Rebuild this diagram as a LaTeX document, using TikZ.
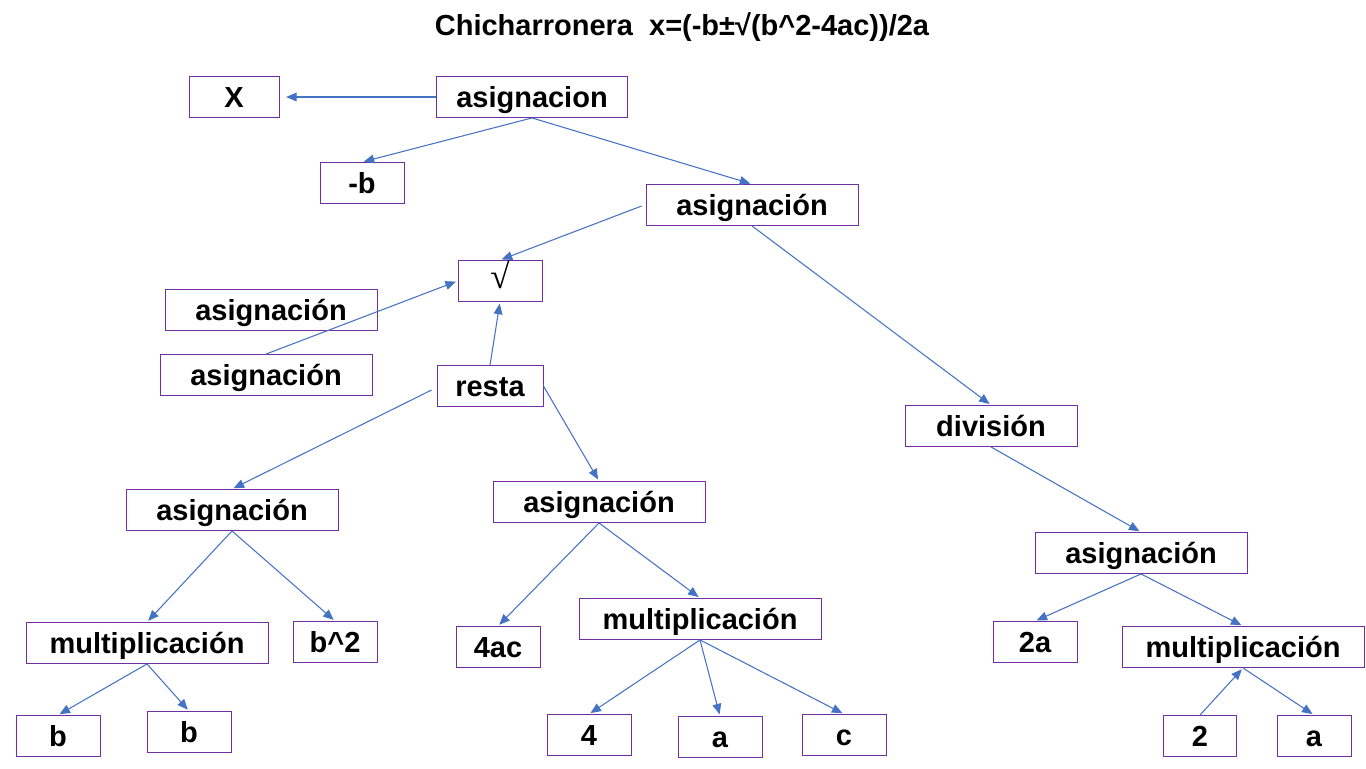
\documentclass[tikz,border=0pt]{standalone}
\usepackage{fontspec}
\setmainfont{Liberation Sans}
\newfontfamily\rootfont{Liberation Serif}
\usetikzlibrary{arrows.meta}
\definecolor{boxline}{RGB}{112,48,160}
\definecolor{arrowline}{RGB}{68,114,196}

\begin{document}
\begin{tikzpicture}[x=0.02cm,y=-0.02cm,
    every node/.style={rectangle,draw=boxline,line width=0.5pt,inner sep=0pt,minimum height=0.82cm,
        text height=13.5pt,text depth=1.5pt,font=\fontsize{16.5}{19}\selectfont\bfseries},
    small/.style={minimum width=1.68cm},
    wide/.style={minimum width=4.24cm},
    wider/.style={minimum width=4.84cm},
    link/.style={draw=arrowline,line width=0.6pt,-{Triangle[length=6pt,width=5pt]},shorten >=1pt}]
    \useasboundingbox (0,0) rectangle (1366,768);
    \node[draw=none] (title) at (682,25) {Chicharronera\ \ x=(-b±√(b\textasciicircum 2-4ac))/2a};

    \node[minimum width=1.8cm] (X) at (234,97) {X};
    \node[minimum width=3.82cm] (A) at (532,97) {asignacion};
    \node[small] (B) at (362,183) {-b};
    \node[wide] (C) at (752,205) {asignación};
    \node[small,text height=11pt,text depth=2pt,font=\rootfont\fontsize{20}{22}\selectfont] (R) at (500,281) {√};
    \node[wide] (D) at (271,310) {asignación};
    \node[wide] (E) at (266,375) {asignación};
    \node[minimum width=2.12cm] (F) at (490,386) {resta};
    \node[minimum width=3.44cm] (G) at (991,426) {división};
    \node[wide] (H) at (232,510) {asignación};
    \node[wide] (I) at (599,502) {asignación};
    \node[wide] (J) at (1141,553) {asignación};
    \node[wider] (K) at (147,643) {multiplicación};
    \node[small] (L) at (335,642) {b\textasciicircum 2};
    \node[small] (M) at (498,647) {4ac};
    \node[wider] (N) at (700,619) {multiplicación};
    \node[small] (O) at (1035,642) {2a};
    \node[wider] (P) at (1243,647) {multiplicación};
    \node[small] (Q1) at (58,736) {b};
    \node[small] (Q2) at (189,732) {b};
    \node[small] (S1) at (589,735) {4};
    \node[small] (S2) at (720,737) {a};
    \node[small] (S3) at (844,735) {c};
    \node[minimum width=1.46cm] (T1) at (1200,736) {2};
    \node[minimum width=1.48cm] (T2) at (1314,736) {a};

    \draw[link] (A) -- ([xshift=0.1cm]X.east);
    \draw[link] (A.south) -- (B.north);
    \draw[link] (A.south) -- (C.north);
    \draw[link] ([xshift=-0.08cm,yshift=-0.02cm]C.west) -- (R.north);
    \draw[link] (E.north) -- (R.west);
    \draw[link] (F.north) -- (R.south);
    \draw[link] (C.south) -- (G.north);
    \draw[link] ([xshift=-0.1cm,yshift=-0.08cm]F.west) -- (H.north);
    \draw[link] (F.east) -- (I.north);
    \draw[link] (G.south) -- (J.north);
    \draw[link] (H.south) -- (K.north);
    \draw[link] (H.south) -- (L.north);
    \draw[link] (I.south) -- (M.north);
    \draw[link] (I.south) -- (N.north);
    \draw[link] (K.south) -- (Q1.north);
    \draw[link] (K.south) -- (Q2.north);
    \draw[link] (N.south) -- (S1.north);
    \draw[link] (N.south) -- (S2.north);
    \draw[link] (N.south) -- (S3.north);
    \draw[link] (J.south) -- (O.north);
    \draw[link] (J.south) -- (P.north);
    \draw[link] (T1.north) -- (P.south);
    \draw[link] (P.south) -- (T2.north);
\end{tikzpicture}
\end{document}
